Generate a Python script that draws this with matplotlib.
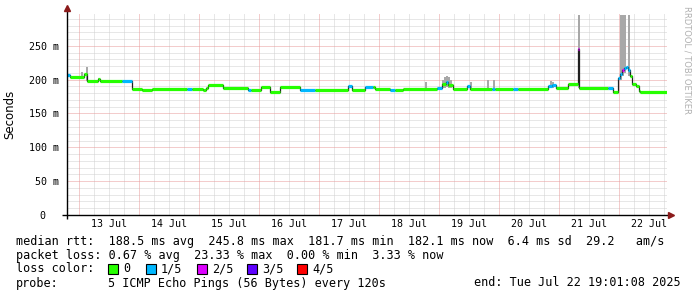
import matplotlib
matplotlib.use('Agg')
import matplotlib.pyplot as plt
from matplotlib.patches import Rectangle
from matplotlib.transforms import ScaledTranslation

# ---------------- data ----------------
# time axis: hours since start (Sat Jul 12 19:01:08 2025), 10-day window
span_hours = 240
start_hour_of_day = 19 + 1 / 60 + 8 / 3600

# median rtt (ms) as steps: start hour, value, loss index (0..4)
med_t = [0, 1.2, 6.8, 8.0, 12.4, 13.2, 22, 26, 30, 34, 48, 50, 54.4, 55.6, 56.4,
         62.4, 72.4, 73.6, 77.6, 81.2, 85.2, 93.2, 99.2, 112.4, 114, 119.2, 122.4,
         123.2, 129.2, 131, 134.4, 148, 150, 151.5, 152.5, 154.4, 160, 161.2, 170,
         171, 178.4, 180.4, 192.4, 194, 195.6, 200.4, 204.4, 204.8, 216.4, 218.4,
         220.4, 221.2, 222.0, 222.8, 223.6, 224.4, 225.2, 226.0, 227.6, 228.8, 229.2]
med_v = [207, 204, 209, 198, 201, 198, 198, 186, 185, 186, 186, 186, 184, 188, 192,
         187, 185, 184, 189, 182, 189, 184, 184, 190, 185, 189, 189,
         186.5, 185, 185, 186.5, 188, 193, 196, 192, 186, 190, 186, 186,
         186.5, 186, 186.5, 190, 192, 187, 193, 246, 187, 187, 182,
         203, 209, 214, 217, 219, 214, 205, 193, 191, 183, 182]
med_loss = [1, 0, 0, 0, 0, 0, 1, 0, 0, 0, 1, 0, 0, 0, 0,
            0, 1, 0, 0, 0, 0, 1, 0, 1, 0, 1, 0,
            0, 1, 0, 0, 1, 0, 1, 0, 0, 1, 0, 1,
            0, 1, 0, 1, 1, 0, 0, 2, 0, 1, 0,
            1, 1, 2, 1, 1, 1, 0, 0, 0, 0, 0]

# smoke (ping spread) ranges: hour, low ms, high ms
smoke_t = [5.6, 7.6, 12.4, 143.2, 150.0, 150.8, 151.6, 152.4, 153.2, 161.0,
           168.0, 170.4, 193.2, 194.0, 204.4, 221.2, 222.0, 222.8, 224.4]
smoke_lo = [203, 198, 198, 186, 187, 188, 189, 188, 187, 186,
            186, 186, 187, 188, 187, 200, 205, 210, 205]
smoke_hi = [211, 219, 203, 197, 200, 204, 205, 204, 199, 196,
            200, 200, 198, 197, 296, 296, 296, 296, 296]

day_labels = ['13 Jul', '14 Jul', '15 Jul', '16 Jul', '17 Jul',
              '18 Jul', '19 Jul', '20 Jul', '21 Jul', '22 Jul']
y_ticks = [0, 50, 100, 150, 200, 250]
y_tick_labels = ['0', '50 m', '100 m', '150 m', '200 m', '250 m']

loss_colors = ['#26ff00', '#00b8ff', '#dd00ff', '#5e00ff', '#ff0000']
loss_names = ['0', '1/5', '2/5', '3/5', '4/5']

legend_lines = [
    'median rtt:  188.5 ms avg  245.8 ms max  181.7 ms min  182.1 ms now  6.4 ms sd  29.2   am/s',
    'packet loss: 0.67 % avg  23.33 % max  0.00 % min  3.33 % now',
]
probe_text = '5 ICMP Echo Pings (56 Bytes) every 120s'
end_text = 'end: Tue Jul 22 19:01:08 2025'

# ---------------- figure ----------------
W, H = 697, 297
fig = plt.figure(figsize=(W / 100, H / 100), dpi=100)
fig.patch.set_facecolor('white')
L, R, B, T = 67, 667, 215, 14
ax = fig.add_axes([L / W, (H - B) / H, (R - L) / W, (B - T) / H])
ax.set_xlim(0, span_hours)
ax.set_ylim(0, 297)
for s in ax.spines.values():
    s.set_visible(False)

mono = 'DejaVu Sans Mono'
minor_c = '#d0d0d0'
major_c = '#e89a9a'
dot = (0, (1, 1))

midnight0 = 24 - start_hour_of_day
# vertical grid
j = 0
while midnight0 + 6 * j <= span_hours:
    h = midnight0 + 6 * j
    if j % 4 == 0:
        ax.axvline(h, color=major_c, lw=0.72, ls=dot, zorder=1)
    else:
        ax.axvline(h, color=minor_c, lw=0.72, ls=dot, zorder=0.5)
    j += 1
j = 1
while midnight0 - 6 * j > 0:
    ax.axvline(midnight0 - 6 * j, color=minor_c, lw=0.72, ls=dot, zorder=0.5)
    j += 1
# horizontal grid
for v in range(10, 297, 10):
    if v % 50 == 0:
        ax.axhline(v, color=major_c, lw=0.72, ls=dot, zorder=1)
    else:
        ax.axhline(v, color=minor_c, lw=0.72, ls=dot, zorder=0.5)

# smoke
ax.bar(smoke_t, [hi - lo for lo, hi in zip(smoke_lo, smoke_hi)], bottom=smoke_lo,
       width=0.8, align='edge', color='#a8a8a8', linewidth=0, zorder=2)

# median: black step connectors, then coloured segments
ends = med_t[1:] + [span_hours]
ax.step(med_t + [span_hours], med_v + [med_v[-1]], where='post', color='#202020',
        lw=0.9, zorder=3)
for t0, t1, v, lidx in zip(med_t, ends, med_v, med_loss):
    ax.hlines(v, t0, t1, colors=loss_colors[lidx], lw=2.3, zorder=4)

# ticks
ax.set_xticks([midnight0 + 12 + 24 * k for k in range(len(day_labels))])
ax.set_xticklabels(day_labels, fontfamily=mono, fontsize=7.2)
ax.set_yticks(y_ticks)
ax.set_yticklabels(y_tick_labels, fontfamily=mono, fontsize=7.2)
ax.tick_params(axis='both', length=0)
ax.tick_params(axis='x', pad=3)
ax.tick_params(axis='y', pad=6)
lbl0 = ax.get_yticklabels()[0]
lbl0.set_transform(lbl0.get_transform() + ScaledTranslation(-0.13, 0, fig.dpi_scale_trans))

# axes lines with arrows
ax.plot([-5 / 600, 603 / 600], [0, 0], transform=ax.transAxes, color='black',
        lw=1.0, clip_on=False, zorder=6, solid_capstyle='butt')
ax.plot([0, 0], [-4 / 201, 206 / 201], transform=ax.transAxes, color='black',
        lw=1.0, clip_on=False, zorder=6, solid_capstyle='butt')
ax.plot([604 / 600], [0], marker='>', transform=ax.transAxes, color='#8b1a1a',
        markersize=4, clip_on=False, zorder=7)
ax.plot([0], [207 / 201], marker='^', transform=ax.transAxes, color='#8b1a1a',
        markersize=4, clip_on=False, zorder=7)

ax.set_ylabel('Seconds', fontfamily='DejaVu Sans', fontsize=8.5)
ax.yaxis.set_label_coords(-51 / 600, 0.5)


def ftext(x, y, s, **kw):
    kw.setdefault('fontfamily', mono)
    kw.setdefault('fontsize', 8.5)
    kw.setdefault('va', 'center')
    fig.text(x / W, 1 - y / H, s, **kw)


ftext(16, 241, legend_lines[0])
ftext(16, 255, legend_lines[1])
ftext(16, 269, 'loss color:')
box_x = [108, 146, 197, 247, 297]
for bx, c, name in zip(box_x, loss_colors, loss_names):
    fig.patches.append(Rectangle((bx / W, 1 - 274 / H), 10 / W, 10 / H,
                                 transform=fig.transFigure, facecolor=c,
                                 edgecolor='black', lw=0.8))
    ftext(bx + 15, 269, name)
ftext(16, 283, 'probe:')
ftext(108, 283, probe_text)
ftext(681, 283, end_text, ha='right')

fig.text(687 / W, 1 - 60 / H, 'RRDTOOL / TOBI OETIKER', rotation=270,
         fontfamily='DejaVu Sans', fontsize=6, color='#b0b0b0',
         ha='center', va='center')

fig.savefig('out.png', dpi=100, facecolor='white')
